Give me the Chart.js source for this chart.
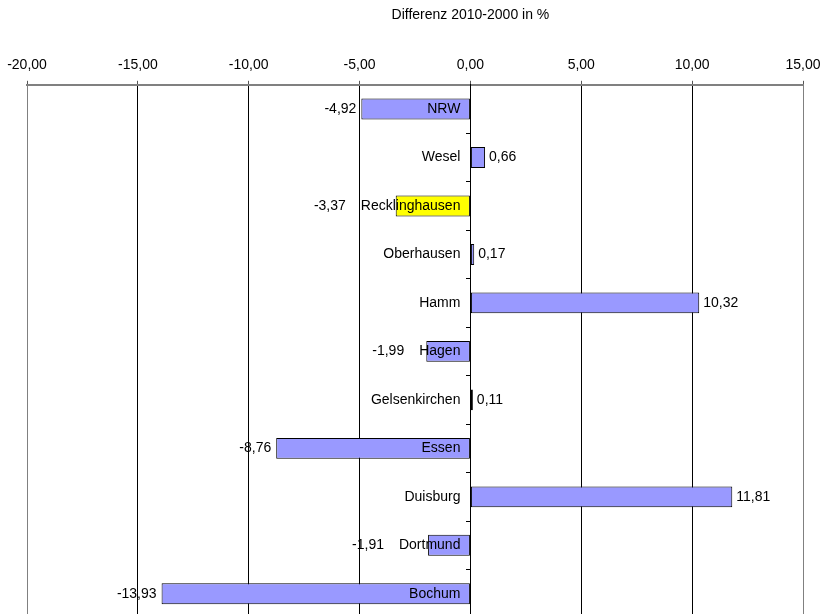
<!DOCTYPE html>
<html>
<head>
<meta charset="utf-8">
<script src="https://cdn.jsdelivr.net/npm/chart.js@4/dist/chart.umd.min.js"></script>
<style>
  body { margin: 0; overflow: hidden; background: #fff; }
</style>
</head>
<body>
<canvas id="diffChart" width="822" height="622"></canvas>
<script>
// Bevölkerungsveränderung 2010 gegenüber 2000 in Prozent
const cities = ['NRW', 'Wesel', 'Recklinghausen', 'Oberhausen', 'Hamm', 'Hagen',
  'Gelsenkirchen', 'Essen', 'Duisburg', 'Dortmund', 'Bochum'];
const diffPercent = [-4.92, 0.66, -3.37, 0.17, 10.32, -1.99, 0.11, -8.76, 11.81, -1.91, -13.93];
const highlighted = ['Recklinghausen', 'Gelsenkirchen'];
const axisTicks = [-20, -15, -10, -5, 0, 5, 10, 15];

const FONT = 'Arial, "Liberation Sans", sans-serif';
const fmt = v => v.toFixed(2).replace('.', ',');

// city names left of the zero line, values at the bar ends, title over the zero line
const labelPlugin = {
  id: 'labelPlugin',
  afterDatasetsDraw(chart) {
    const ctx = chart.ctx;
    const meta = chart.getDatasetMeta(0);
    const x0 = chart.scales.x.getPixelForValue(0);
    const nameRight = x0 - 10;
    ctx.save();
    ctx.fillStyle = '#000';
    ctx.font = '14px ' + FONT;
    ctx.textBaseline = 'middle';
    meta.data.forEach((bar, i) => {
      const name = cities[i];
      const nameLeft = nameRight - ctx.measureText(name).width;
      ctx.textAlign = 'right';
      ctx.fillText(name, nameRight, bar.y);

      const v = diffPercent[i];
      if (v < 0) {
        // keep negative values clear of the city name
        const end = Math.min(bar.x - 5, nameLeft - 15);
        ctx.textAlign = 'right';
        ctx.fillText(fmt(v), end, bar.y);
      } else {
        ctx.textAlign = 'left';
        ctx.fillText(fmt(v), bar.x + 4, bar.y);
      }
    });
    ctx.restore();
  },
  afterDraw(chart) {
    const ctx = chart.ctx;
    const x0 = chart.scales.x.getPixelForValue(0);
    ctx.save();
    ctx.fillStyle = '#000';
    ctx.font = '14px ' + FONT;
    ctx.textAlign = 'center';
    ctx.textBaseline = 'middle';
    ctx.fillText('Differenz 2010-2000 in %', x0, 15);
    ctx.restore();
  }
};

new Chart(document.getElementById('diffChart'), {
  type: 'bar',
  data: {
    labels: cities,
    datasets: [{
      data: diffPercent,
      backgroundColor: cities.map(c => highlighted.includes(c) ? '#FFFF00' : '#9999FF'),
      borderColor: '#000',
      borderWidth: 1,
      borderSkipped: false,
      barPercentage: 0.43,
      categoryPercentage: 1
    }]
  },
  options: {
    indexAxis: 'y',
    responsive: false,
    animation: false,
    devicePixelRatio: 1,
    layout: { padding: { top: 50, left: 27, right: 19, bottom: 4 } },
    plugins: {
      legend: { display: false },
      title: { display: false },
      tooltip: { enabled: false }
    },
    scales: {
      x: {
        position: 'top',
        min: axisTicks[0],
        max: axisTicks[axisTicks.length - 1],
        afterBuildTicks: scale => { scale.ticks = axisTicks.map(v => ({ value: v })); },
        afterFit: scale => { scale.paddingLeft = 0; scale.paddingRight = 0; },
        ticks: {
          color: '#000',
          font: { family: FONT, size: 14 },
          padding: 7,
          maxRotation: 0,
          callback: v => fmt(v)
        },
        grid: {
          color: ctx => (ctx.tick && (ctx.tick.value === axisTicks[0] || ctx.tick.value === axisTicks[axisTicks.length - 1])) ? '#808080' : '#000',
          tickColor: '#555',
          tickLength: 4,
          lineWidth: 1
        },
        border: { color: '#808080', width: 2 }
      },
      y: {
        position: { x: 0 },
        ticks: { display: false },
        grid: {
          offset: true,
          drawOnChartArea: false,
          tickLength: 4,
          color: '#000'
        },
        border: { color: '#000', width: 1 }
      }
    }
  },
  plugins: [labelPlugin]
});
</script>
</body>
</html>
